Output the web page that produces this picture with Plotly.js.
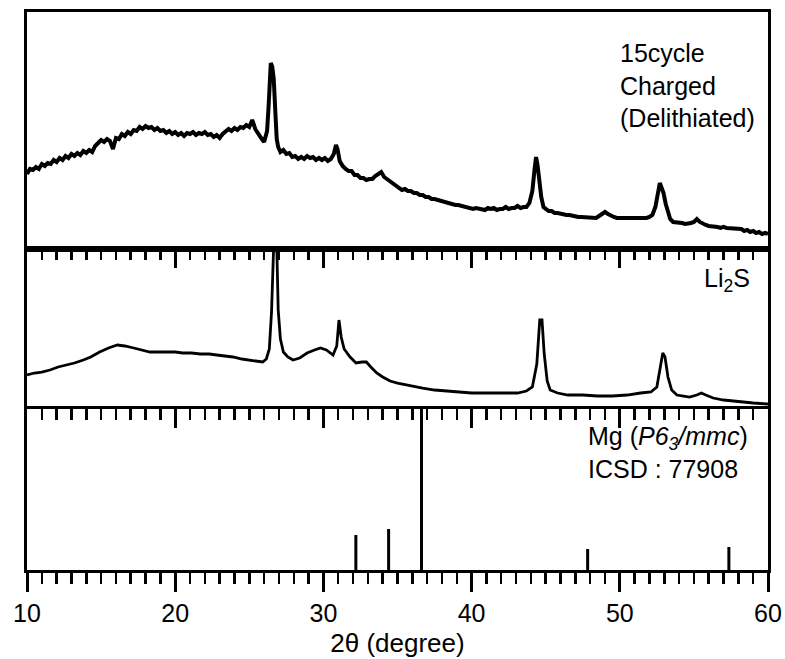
<!DOCTYPE html>
<html>
<head>
<meta charset="utf-8">
<script src="https://cdn.plot.ly/plotly-3.0.1.min.js"></script>
<style>html,body{margin:0;padding:0;background:#fff;}#chart{width:785px;height:659px;}</style>
</head>
<body>
<div id="chart"></div>
<script>
// Top panel: 15cycle charged (delithiated)
const chargedX = [10.0,10.2,10.4,10.6,10.8,11.0,11.2,11.4,11.6,11.8,12.0,12.2,12.4,12.6,12.8,13.0,13.2,13.4,13.6,13.8,14.0,14.2,14.4,14.6,14.8,15.0,15.2,15.4,15.6,15.8,16.0,16.2,16.4,16.6,16.8,17.0,17.2,17.4,17.6,17.8,18.0,18.2,18.4,18.6,18.8,19.0,19.2,19.4,19.6,19.8,20.0,20.2,20.4,20.6,20.8,21.0,21.2,21.4,21.6,21.8,22.0,22.2,22.4,22.6,22.8,23.0,23.2,23.4,23.6,23.8,24.0,24.2,24.4,24.6,24.8,25.0,25.2,25.4,25.6,25.8,26.0,
  26.2,26.3,26.45,26.55,26.65,26.75,26.85,26.95,27.1,
  27.3,27.5,27.7,27.9,28.1,28.3,28.5,28.7,28.9,29.1,29.3,29.5,29.7,29.9,30.1,30.3,30.5,30.7,
  30.85,30.95,
  31.1,31.3,31.5,31.7,31.9,32.1,32.3,32.5,32.7,32.9,33.1,33.3,33.5,33.7,33.9,34.1,34.3,34.5,34.7,34.9,35.1,35.3,35.5,35.7,35.9,36.1,36.3,36.5,36.7,36.9,37.1,37.3,37.5,37.7,37.9,38.1,38.3,38.5,38.7,38.9,39.1,39.3,39.5,39.7,39.9,40.1,40.3,40.5,40.7,40.9,41.1,41.3,41.5,41.7,41.9,42.1,42.3,42.5,42.7,42.9,43.1,43.3,43.5,43.7,43.9,
  44.1,44.25,44.35,44.45,44.55,44.7,44.85,
  45.0,45.2,45.4,45.6,45.8,46.0,46.2,46.4,46.6,46.8,47.0,47.2,47.4,47.6,47.8,48.0,48.2,48.4,48.6,48.8,49.0,49.2,49.4,49.6,49.8,50.0,50.2,50.4,50.6,50.8,51.0,51.2,51.4,51.6,51.8,52.0,52.2,52.4,
  52.55,52.7,52.8,52.95,53.1,53.25,
  53.4,53.6,53.8,54.0,54.2,54.4,54.6,54.8,55.0,55.2,55.4,55.6,55.8,56.0,56.2,56.4,56.6,56.8,57.0,57.2,57.4,57.6,57.8,58.0,58.2,58.4,58.6,58.8,59.0,59.2,59.4,59.6,59.8,60.0];
const chargedY = [75,80,79,82,80,85,83,86,85,89,87,91,89,93,91,95,93,96,94,98,96,99,97,103,106,109,107,110,108,100,111,110,115,113,117,115,119,118,122,120,123,121,122,119,121,118,119,116,118,115,117,114,116,113,116,115,117,114,116,115,117,114,115,112,114,111,115,117,120,118,121,119,122,121,124,122,129,120,115,111,107,
  118,142,186,182,170,139,110,102,97,
  99,95,96,92,93,90,92,90,93,91,92,89,91,89,91,88,90,95,
  104,100,
  88,83,80,78,78,74,74,71,71,69,70,70,73,75,77,72,70,67,66,63,62,59,60,58,58,56,56,54,54,52,52,50,50,49,49,47,47,45,45,44,44,43,43,41,41,40,41,40,40,39,41,40,41,39,40,40,42,40,41,41,43,41,42,42,46,
  58,80,92,84,70,52,42,
  40,38,38,36,36,35,35,34,34,33,33,32,32,32,32,31,31,31,33,35,37,35,33,32,31,31,31,31,30,31,30,30,30,30,31,32,34,42,
  55,66,62,56,45,36,
  30,27,27,26,26,25,25,26,27,30,27,25,24,23,23,22,22,21,22,21,21,20,21,20,20,18,19,17,18,16,17,15,16,15];

// Middle panel: Li2S
const li2sX = [10.0,10.5,11.0,11.55,12.1,12.7,13.2,13.8,14.3,14.9,15.5,16.1,16.6,17.2,17.8,18.3,18.9,19.4,20.0,20.5,21.1,21.7,22.3,22.8,23.4,23.9,24.5,25.0,25.5,25.9,26.15,26.35,26.5,26.65,26.85,26.95,27.1,27.3,27.6,27.95,28.4,28.9,29.4,29.8,30.2,30.65,30.9,31.05,31.2,31.4,31.8,32.2,32.6,32.9,33.2,33.6,34.0,34.5,35.0,35.6,36.2,36.7,37.5,38.3,39.0,40.0,41.2,42.2,43.1,43.7,44.1,44.4,44.6,44.75,44.9,45.1,45.3,45.8,46.5,47.5,48.5,49.5,50.5,51.4,52.1,52.5,52.75,52.9,53.05,53.25,53.5,53.85,54.3,54.7,55.2,55.5,55.8,56.3,57.0,57.6,58.1,59.0,60.0];
const li2sY = [34,36,37,39,42,44,46,49,52,57,61,64,63,61,59,57,57,57,57,56,56,55,55,54,53,52,50,49,48,47,50,60,97,165,165,99,70,57,52,49,51,56,59,61,59,54,63,89,72,60,52,46,47,47,42,36,32,28,26,24,22,21,19,18,17,16,16,16,16,18,22,45,89,89,55,28,19,16,14,14,13,13,14,16,17,22,45,56,52,32,19,14,13,12,14,16,14,11,9,8,7,6,5];

// Bottom panel: Mg (P6_3/mmc) reference, ICSD 77908
const mgX = [32.19, 34.40, 36.62, 47.83, 57.36];
const mgY = [35, 41, 170, 21, 23];

const tickVals = [10, 20, 30, 40, 50, 60];
const tickText = ['10', '20', '30', '40', '50', '60'];

const FONT = 'Liberation Sans, Arial, Helvetica, sans-serif';

// sticks for Mg as vertical segments
const stickX = [], stickY = [];
for (let i = 0; i < mgX.length; i++) {
  stickX.push(mgX[i], mgX[i], null);
  stickY.push(0, mgY[i], null);
}

const traces = [
  {x: chargedX, y: chargedY, xaxis: 'x3', yaxis: 'y3', type: 'scatter', mode: 'lines',
   line: {color: '#000', width: 4}, hoverinfo: 'skip'},
  {x: li2sX, y: li2sY, xaxis: 'x2', yaxis: 'y2', type: 'scatter', mode: 'lines',
   line: {color: '#000', width: 2.8}, hoverinfo: 'skip'},
  {x: stickX, y: stickY, xaxis: 'x', yaxis: 'y', type: 'scatter', mode: 'lines',
   line: {color: '#000', width: 3}, hoverinfo: 'skip'},
  // invisible trace so the top-edge tick axis of the bottom panel is drawn
  {x: [10, 60], y: [-10, -10], xaxis: 'x4', yaxis: 'y', type: 'scatter', mode: 'lines',
   line: {color: 'rgba(0,0,0,0)', width: 0}, hoverinfo: 'skip'}
];

const yBase = {showline: true, mirror: true, linewidth: 3, linecolor: '#000',
  showticklabels: false, ticks: '', showgrid: false, zeroline: false, fixedrange: true};

const topTicks = {
  range: [10, 60], side: 'top',
  tickmode: 'array', tickvals: tickVals, showticklabels: false,
  ticks: 'inside', ticklen: 19, tickwidth: 3, tickcolor: '#000',
  minor: {ticks: 'inside', dtick: 1, tick0: 10, ticklen: 11, tickwidth: 2.5, tickcolor: '#000', showgrid: false},
  showline: true, linewidth: 3, linecolor: '#000', showgrid: false, zeroline: false
};

const layout = {
  width: 785, height: 659,
  margin: {l: 27, r: 17, t: 12, b: 89},
  paper_bgcolor: '#fff', plot_bgcolor: '#fff',
  showlegend: false,
  font: {family: FONT, color: '#000', size: 25},
  xaxis: {
    domain: [0, 1], anchor: 'y', range: [10, 60], side: 'bottom',
    tickmode: 'array', tickvals: tickVals, ticktext: tickText,
    ticks: 'outside', ticklen: 19, tickwidth: 3, tickcolor: '#000',
    minor: {ticks: 'outside', dtick: 1, tick0: 10, ticklen: 11, tickwidth: 2.5, tickcolor: '#000', showgrid: false},
    showline: true, linewidth: 3, linecolor: '#000', showgrid: false, zeroline: false,
    tickfont: {family: FONT, size: 25, color: '#000'},
    title: {text: '2θ (degree)', font: {family: FONT, size: 26, color: '#000'}, standoff: 8}
  },
  xaxis4: Object.assign({overlaying: 'x', anchor: 'y'}, topTicks),
  xaxis2: Object.assign({domain: [0, 1], anchor: 'y2'}, topTicks),
  xaxis3: {
    domain: [0, 1], anchor: 'y3', range: [10, 60],
    showticklabels: false, ticks: '', showline: true, mirror: true,
    linewidth: 3, linecolor: '#000', showgrid: false, zeroline: false
  },
  yaxis: Object.assign({domain: [0, 0.2885], anchor: 'x', range: [0, 161]}, yBase),
  yaxis2: Object.assign({domain: [0.2885, 0.5753], anchor: 'x2', range: [0, 160]}, yBase),
  yaxis3: Object.assign({domain: [0.5753, 1], anchor: 'x3', range: [0, 237]}, yBase),
  annotations: [
    {xref: 'paper', yref: 'paper', x: 0.797, y: 0.956, xanchor: 'left', yanchor: 'top', align: 'left',
     showarrow: false, text: '15cycle<br>Charged<br>(Delithiated)', font: {family: FONT, size: 25, color: '#000'}},
    {xref: 'paper', yref: 'paper', x: 0.978, y: 0.552, xanchor: 'right', yanchor: 'top', align: 'right',
     showarrow: false, text: 'Li<sub>2</sub>S', font: {family: FONT, size: 25, color: '#000'}},
    {xref: 'paper', yref: 'paper', x: 0.755, y: 0.268, xanchor: 'left', yanchor: 'top', align: 'left',
     showarrow: false, text: 'Mg (<i>P6<sub>3</sub>/mmc</i>)<br>ICSD : 77908', font: {family: FONT, size: 25, color: '#000'}}
  ]
};

Plotly.newPlot('chart', traces, layout, {staticPlot: true, displayModeBar: false});
</script>
</body>
</html>
